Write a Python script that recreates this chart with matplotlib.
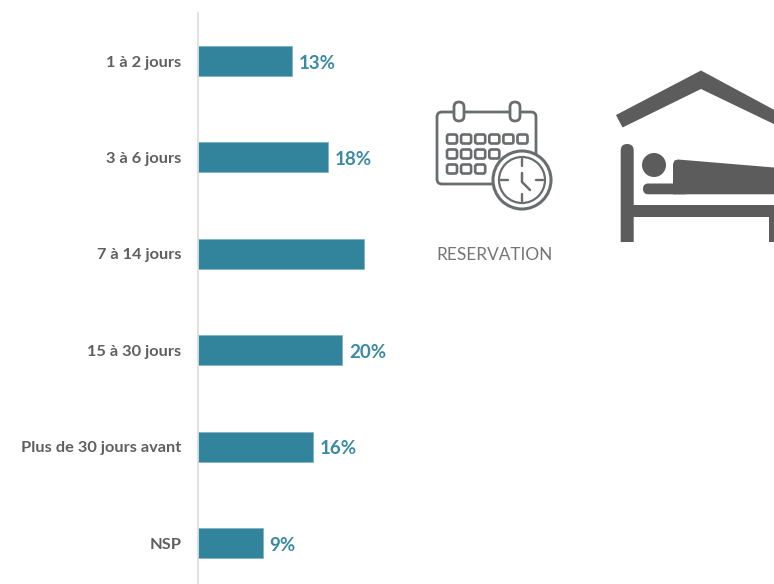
import matplotlib
matplotlib.use("Agg")
import matplotlib.pyplot as plt
from matplotlib.patches import Circle, FancyBboxPatch, Polygon, Rectangle

categories = ["1 à 2 jours", "3 à 6 jours", "7 à 14 jours", "15 à 30 jours", "Plus de 30 jours avant", "NSP"]
values = [13, 18, 23, 20, 16, 9]
# the 7 a 14 jours bar has no label in the picture
value_labels = ["13%", "18%", "", "20%", "16%", "9%"]

W, H = 774, 584
BLUE = "#31849b"
LABEL_BLUE = "#3b8aa2"
TEXT = "#5f5f5f"
ICON = "#5c5c5c"
LINE = "#6a6d6e"

plt.rcParams["font.family"] = ["Lato", "DejaVu Sans"]

fig = plt.figure(figsize=(W / 100, H / 100), dpi=100, facecolor="white")

# chart axes, left edge on the vertical line
ax = fig.add_axes([198 / W, 0, (W - 198) / W, (H - 13) / H])
ax.barh(range(len(values)), values, height=0.311, color=BLUE, edgecolor="#7fb4c4", linewidth=0.6)
ax.set_xlim(0, (W - 198) / 7.2)
ax.set_ylim(5.425, -0.498)
ax.set_yticks(range(len(categories)))
ax.set_yticklabels(categories, fontsize=11.8, fontweight="bold", color=TEXT)
ax.tick_params(axis="y", length=0, pad=12)
ax.set_xticks([])
for s in ["top", "right", "bottom"]:
    ax.spines[s].set_visible(False)
ax.spines["left"].set_color("#dcdcdc")
ax.spines["left"].set_linewidth(1.2)
for i, lab in enumerate(value_labels):
    if lab:
        ax.annotate(lab, (values[i], i), xytext=(5, -1.5), textcoords="offset points",
                    ha="left", va="center", fontsize=13.5, fontweight="bold", color=LABEL_BLUE)

# overlay in pixel coordinates for the two icons
ov = fig.add_axes([0, 0, 1, 1], facecolor="none")
ov.set_xlim(0, W)
ov.set_ylim(H, 0)
ov.axis("off")

def round_box(x0, y0, x1, y1, r, **kw):
    ov.add_patch(FancyBboxPatch((x0 + r, y0 + r), x1 - x0 - 2 * r, y1 - y0 - 2 * r,
                                boxstyle=f"round,pad={r},rounding_size={r}", **kw))

# calendar
round_box(437, 112, 536, 184, 5, fc="white", ec=LINE, lw=2)
for x in [459, 515]:
    round_box(x - 5, 102, x + 5, 121, 5, fc="white", ec=LINE, lw=2)
for y, n in [(139, 6), (154, 4), (169, 3)]:
    for k in range(n):
        x = 452 + k * 14.1
        round_box(x - 5, y - 4.5, x + 5, y + 4.5, 2, fc="white", ec=LINE, lw=1.9)

# clock
ov.add_patch(Circle((522, 180), 29, fc="white", ec=LINE, lw=2.2))
ov.add_patch(Circle((522, 180), 23, fc="white", ec=LINE, lw=1.6))
for x0, y0, x1, y1 in [(522, 159, 522, 166), (522, 194, 522, 201), (501, 180, 508, 180), (536, 180, 543, 180)]:
    ov.plot([x0, x1], [y0, y1], color=LINE, lw=1.7, solid_capstyle="round")
ov.plot([522, 522, 530], [173, 182, 190], color=LINE, lw=1.8, solid_capstyle="round", solid_joinstyle="round")

ov.text(494.5, 254.5, "RESERVATION", ha="center", va="center", fontsize=12.4, color="#757575",
        fontfamily="Lato", fontweight="normal")

# bed and roof, cut by the right edge of the figure
ov.add_patch(Polygon([(616, 115), (701, 70.5), (780, 113), (780, 127), (701, 89), (622.5, 127.5)], fc=ICON, ec="none"))
round_box(620.7, 144, 633.7, 260, 6.5, fc=ICON, ec="none")
ov.add_patch(Rectangle((620, 242), 16, 20, fc="white", ec="none", zorder=3))
ov.add_patch(Rectangle((625, 205), 155, 12, fc=ICON, ec="none"))
ov.add_patch(Rectangle((769, 205), 12, 37, fc=ICON, ec="none"))
ov.add_patch(Circle((654, 165), 12, fc=ICON, ec="none"))
ov.add_patch(Polygon([(673, 164), (674.5, 160.5), (678, 159.5), (780, 168), (780, 194.3), (673, 194.3)], fc=ICON, ec="none"))
round_box(643, 183.5, 690, 194.3, 5.4, fc=ICON, ec="none")

fig.savefig("out.png", dpi=100, facecolor="white")
